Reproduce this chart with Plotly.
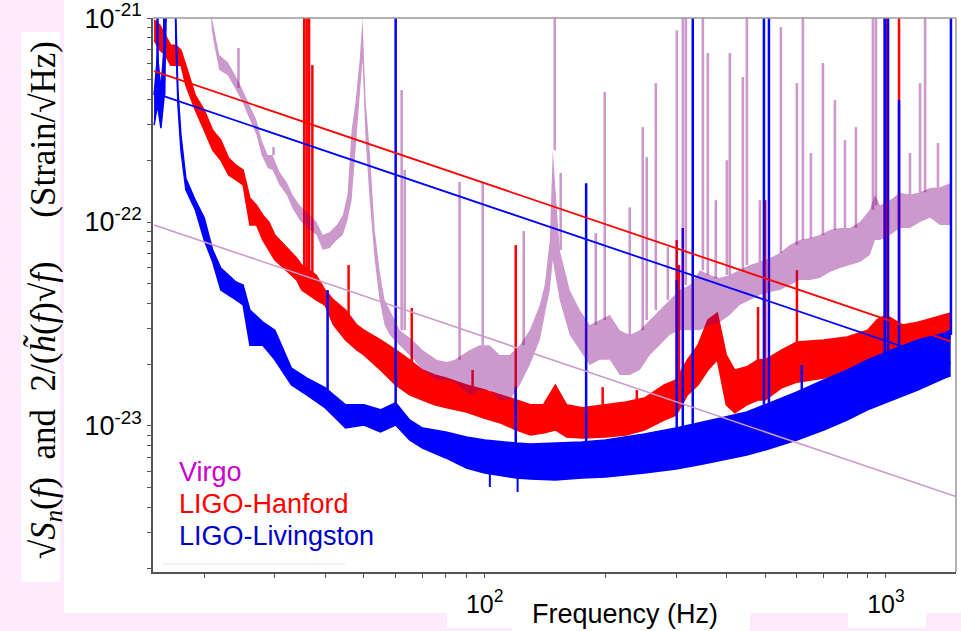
import plotly.graph_objects as go

# ---------------- data ----------------
# LIGO-Livingston noise band: frequency (Hz), upper / lower edge of the band (strain/sqrt(Hz))
LIV_F = [15.0, 15.3, 15.6, 15.9, 16.3, 16.8, 17.0, 17.2, 17.5, 18, 19, 20, 21, 22, 24, 25, 26, 28, 30, 33,
         36, 40, 45, 50, 55, 60, 65, 70, 80, 90, 100, 110, 120, 130, 150, 175, 200, 250, 300, 350,
         400, 450, 500, 600, 700, 800, 900, 1000, 1200, 1400, 1450]
LIV_HI = [4.19e-22, 6.59e-22, 4.44e-22, 7.37e-22, 3e-21, 3e-21, 9.77e-22, 4.44e-22, 2.67e-22, 1.64e-22,
          1.28e-22, 1.05e-22, 7.29e-23, 5.95e-23, 5.08e-23, 4.91e-23, 3.70e-23, 3.23e-23, 2.95e-23, 1.92e-23,
          1.72e-23, 1.54e-23, 1.27e-23, 1.27e-23, 1.20e-23, 1.30e-23, 1.07e-23, 9.77e-24, 9.35e-24, 8.83e-24,
          8.54e-24, 8.35e-24, 8.25e-24, 8.16e-24, 8.25e-24, 8.35e-24, 8.54e-24, 9.14e-24, 9.77e-24, 1.05e-23,
          1.11e-23, 1.17e-23, 1.27e-23, 1.47e-23, 1.68e-23, 1.88e-23, 2.11e-23, 2.30e-23, 2.64e-23, 2.86e-23,
          2.95e-23]
LIV_LO = [2.99e-22, 3.75e-22, 2.89e-22, 4.19e-22, 3e-21, 3e-21, 7.80e-22, 3.75e-22, 2.25e-22, 1.44e-22,
          1.15e-22, 8.16e-23, 6.37e-23, 4.64e-23, 4.15e-23, 3.92e-23, 2.49e-23, 2.49e-23, 2.11e-23, 1.59e-23,
          1.42e-23, 1.23e-23, 9.77e-24, 1.01e-23, 9.35e-24, 1.01e-23, 8.54e-24, 7.80e-24, 6.97e-24, 6.22e-24,
          5.88e-24, 5.69e-24, 5.56e-24, 5.50e-24, 5.44e-24, 5.56e-24, 5.62e-24, 5.88e-24, 6.15e-24, 6.51e-24,
          6.89e-24, 7.21e-24, 7.63e-24, 8.54e-24, 9.56e-24, 1.07e-23, 1.20e-23, 1.30e-23, 1.50e-23, 1.72e-23,
          1.76e-23]
# Livingston spectral lines: frequency, foot, tip
LIV_SPK_F = [15.3, 15.9, 40.6, 60.0, 119.5, 179, 301, 311.7, 330, 496.5, 511, 617, 993, 1012, 1078, 1452]
LIV_SPK_BASE = [3.75e-22, 4.19e-22, 1.34e-23, 1.20e-23, 8.07e-24, 8.07e-24, 9.56e-24, 9.56e-24, 9.77e-24,
                1.27e-23, 1.27e-23, 1.42e-23, 2.23e-23, 2.23e-23, 2.36e-23, 2.79e-23]
LIV_SPK_TOP = [3e-21, 3e-21, 4.64e-23, 3e-21, 1.55e-23, 1.55e-22, 5.20e-23, 9.35e-23, 3e-21, 3e-21, 3e-21,
               1.99e-23, 3e-21, 3e-21, 3.96e-22, 3e-21]
LIV_DIP_F = [103, 120.8]
LIV_DIP_FROM = [6.08e-24, 5.75e-24]
LIV_DIP_TO = [5.02e-24, 4.75e-24]

# LIGO-Hanford noise band
HAN_F = [15, 15.5, 16, 16.5, 17, 17.5, 18, 19, 20, 21, 22, 23, 24, 25, 26, 27, 28, 29, 30, 32, 34, 35, 38, 40,
         42, 45, 48, 50, 55, 60, 65, 70, 75, 80, 90, 100, 110, 120, 130, 140, 150, 160, 175, 200, 225, 250,
         280, 300, 320, 340, 360, 380, 400, 420, 450, 480, 500, 550, 600, 700, 800, 900, 950, 1000, 1100,
         1200, 1300, 1450]
HAN_HI = [9.77e-22, 9.24e-22, 8.25e-22, 7.37e-22, 7.37e-22, 6.97e-22, 5.88e-22, 4.19e-22, 3.54e-22, 2.82e-22,
          2.52e-22, 2.06e-22, 1.90e-22, 1.80e-22, 1.31e-22, 1.21e-22, 1.08e-22, 1.00e-22, 8.63e-23, 7.54e-23,
          6.66e-23, 6.15e-23, 5.50e-23, 4.64e-23, 4.15e-23, 3.70e-23, 3.13e-23, 2.95e-23, 2.64e-23, 2.36e-23,
          2.11e-23, 1.88e-23, 1.78e-23, 1.72e-23, 1.59e-23, 1.50e-23, 1.42e-23, 1.34e-23, 1.27e-23, 1.27e-23,
          1.59e-23, 1.27e-23, 1.23e-23, 1.27e-23, 1.31e-23, 1.37e-23, 1.59e-23, 1.68e-23, 2.11e-23, 2.49e-23,
          3.31e-23, 3.58e-23, 2.23e-23, 1.88e-23, 1.95e-23, 2.11e-23, 2.11e-23, 2.36e-23, 2.58e-23, 2.64e-23,
          2.73e-23, 2.95e-23, 3.31e-23, 3.50e-23, 3.13e-23, 3.23e-23, 3.38e-23, 3.58e-23]
HAN_LO = [7.80e-22, 6.97e-22, 6.59e-22, 5.88e-22, 5.88e-22, 5.88e-22, 4.69e-22, 3.54e-22, 2.82e-22, 2.25e-22,
          2.01e-22, 1.70e-22, 1.61e-22, 1.52e-22, 9.67e-23, 9.67e-23, 8.16e-23, 7.29e-23, 6.51e-23, 5.81e-23,
          5.20e-23, 4.64e-23, 4.15e-23, 3.92e-23, 3.13e-23, 2.64e-23, 2.36e-23, 2.23e-23, 1.88e-23, 1.59e-23,
          1.42e-23, 1.34e-23, 1.27e-23, 1.23e-23, 1.17e-23, 1.09e-23, 1.03e-23, 9.56e-24, 9.03e-24, 9.24e-24,
          9.56e-24, 8.83e-24, 8.73e-24, 8.83e-24, 9.03e-24, 9.56e-24, 1.07e-23, 1.13e-23, 1.42e-23, 1.59e-23,
          1.88e-23, 2.11e-23, 1.27e-23, 1.16e-23, 1.27e-23, 1.34e-23, 1.34e-23, 1.54e-23, 1.64e-23, 1.72e-23,
          1.84e-23, 1.99e-23, 2.15e-23, 2.23e-23, 2.18e-23, 2.30e-23, 2.47e-23, 2.70e-23]
HAN_SPK_F = [35.5, 36.0, 36.5, 37.2, 45.8, 65.8, 93.3, 119.5, 196.8, 239.4, 301, 305, 480, 500, 600, 994,
             1003, 1078]
HAN_SPK_BASE = [5.20e-23, 4.91e-23, 4.91e-23, 4.64e-23, 2.95e-23, 1.68e-23, 1.34e-23, 1.13e-23, 1.07e-23,
                1.07e-23, 1.34e-23, 1.34e-23, 1.68e-23, 1.68e-23, 2.06e-23, 2.79e-23, 2.79e-23, 2.64e-23]
HAN_SPK_TOP = [3e-21, 3e-21, 3e-21, 5.88e-22, 6.15e-23, 3.79e-23, 1.88e-23, 7.71e-23, 1.55e-23, 1.50e-23,
               8.16e-23, 6.15e-23, 3.83e-23, 1.28e-22, 5.81e-23, 3e-21, 3e-21, 3e-21]

# Virgo noise band
VIR_F = [20.0, 20.9, 21.2, 21.8, 22.9, 23.9, 24.8, 25.9, 27.0, 27.8, 28.8, 29.6, 30.8, 32.1, 33.2, 34.6, 36.6,
         38.1, 39.5, 41.1, 42.8, 44.3, 45.5, 46.6, 47.7, 48.8, 49.6, 50.5, 51.7, 53.2, 54.7, 56.3, 58.0, 61.4,
         66.1, 70.0, 75.9, 80.4, 84.2, 91.8, 97.2, 102.9, 109, 115.4, 122.3, 129.5, 137.2, 141.1, 145.3, 147.8,
         153.8, 162.9, 172.6, 182.7, 193.5, 205, 217, 230, 243.5, 258, 273, 289, 306, 325, 344, 364, 385, 408,
         432, 458, 485, 514, 544, 576, 610, 646, 684, 725, 768, 813, 861, 912, 939, 966, 1023, 1084, 1148,
         1216, 1288, 1364, 1444]
VIR_HI = [3e-21, 1.00e-21, 8.73e-22, 6.59e-22, 6.08e-22, 5.25e-22, 4.54e-22, 3.75e-22, 3.16e-22, 2.52e-22,
          2.13e-22, 2.13e-22, 1.76e-22, 1.57e-22, 1.36e-22, 1.21e-22, 1.08e-22, 1.00e-22, 8.63e-23, 8.93e-23,
          9.67e-23, 1.08e-22, 1.36e-22, 2.82e-22, 3.96e-22, 6.22e-22, 1.00e-21, 3.96e-22, 2.25e-22, 9.14e-23,
          5.81e-23, 4.15e-23, 3.70e-23, 2.95e-23, 2.64e-23, 2.36e-23, 2.11e-23, 2.06e-23, 2.11e-23, 2.36e-23,
          2.49e-23, 2.49e-23, 2.23e-23, 2.23e-23, 2.49e-23, 2.95e-23, 3.92e-23, 4.91e-23, 8.16e-23, 2.25e-22,
          7.29e-23, 4.64e-23, 3.70e-23, 3.13e-23, 3.31e-23, 3.50e-23, 2.95e-23, 2.79e-23, 2.95e-23, 3.31e-23,
          3.70e-23, 4.15e-23, 4.64e-23, 4.91e-23, 5.81e-23, 5.50e-23, 5.31e-23, 5.50e-23, 5.81e-23, 6.15e-23,
          6.37e-23, 6.66e-23, 7.05e-23, 7.71e-23, 8.16e-23, 8.34e-23, 8.63e-23, 9.14e-23, 9.35e-23, 9.35e-23,
          1.00e-22, 1.15e-22, 1.36e-22, 1.21e-22, 1.28e-22, 1.39e-22, 1.36e-22, 1.40e-22, 1.47e-22, 1.48e-22,
          1.55e-22]
VIR_LO = [3e-21, 8.73e-22, 7.37e-22, 5.56e-22, 5.25e-22, 4.54e-22, 3.96e-22, 3.23e-22, 2.67e-22, 2.13e-22,
          1.84e-22, 1.80e-22, 1.52e-22, 1.36e-22, 1.17e-22, 1.02e-22, 9.14e-23, 8.63e-23, 7.29e-23, 7.46e-23,
          8.16e-23, 8.63e-23, 1.02e-22, 1.28e-22, 2.25e-22, 3.96e-22, 6.22e-22, 2.52e-22, 1.28e-22, 6.51e-23,
          4.15e-23, 3.13e-23, 2.79e-23, 2.49e-23, 2.15e-23, 1.88e-23, 1.68e-23, 1.68e-23, 1.64e-23, 1.42e-23,
          1.50e-23, 1.50e-23, 1.34e-23, 1.34e-23, 1.59e-23, 1.99e-23, 2.64e-23, 3.50e-23, 4.64e-23, 6.51e-23,
          4.15e-23, 2.79e-23, 2.36e-23, 1.99e-23, 2.11e-23, 2.11e-23, 1.78e-23, 1.78e-23, 1.88e-23, 2.23e-23,
          2.49e-23, 2.79e-23, 2.95e-23, 2.95e-23, 2.95e-23, 3.13e-23, 3.23e-23, 3.50e-23, 3.92e-23, 4.15e-23,
          4.39e-23, 4.54e-23, 4.64e-23, 4.91e-23, 5.20e-23, 5.20e-23, 5.31e-23, 5.69e-23, 5.95e-23, 6.15e-23,
          6.37e-23, 6.89e-23, 8.16e-23, 8.16e-23, 8.63e-23, 9.35e-23, 9.35e-23, 1.00e-22, 1.05e-22, 9.67e-23,
          9.67e-23]
VIR_SPK_F = [24.35, 29.77, 62.1, 63.2, 86.6, 98.9, 125.1, 149.5, 154.7, 189.2, 199.2, 229.9, 247.7, 253.5,
             267.0, 286.1, 301.2, 311.8, 317.2, 349.8, 359.9, 376.7, 401.4, 408.3, 440.0, 450.2, 485.1, 547.2,
             599.8, 620.9, 650.1, 696.6, 746.2, 790.4, 841.7, 928.2, 944.4, 1148, 1216, 1252, 1348]
VIR_SPK_BASE = [4.54e-22, 2.13e-22, 2.95e-23, 2.95e-23, 2.11e-23, 2.49e-23, 2.49e-23, 2.25e-22, 7.29e-23,
                3.13e-23, 3.31e-23, 2.79e-23, 2.95e-23, 3.31e-23, 3.70e-23, 4.15e-23, 4.64e-23, 4.91e-23,
                4.91e-23, 5.81e-23, 5.50e-23, 5.31e-23, 5.50e-23, 5.50e-23, 5.81e-23, 6.15e-23, 6.37e-23,
                7.05e-23, 7.71e-23, 8.16e-23, 8.34e-23, 8.63e-23, 9.14e-23, 9.35e-23, 9.35e-23, 1.15e-22,
                1.21e-22, 1.36e-22, 1.40e-22, 1.40e-22, 1.48e-22]
VIR_SPK_TOP = [7.13e-22, 2.33e-22, 4.44e-22, 1.80e-22, 1.57e-22, 1.55e-22, 9.03e-23, 3e-21, 1.74e-22,
               8.83e-23, 4.34e-22, 1.18e-22, 2.92e-22, 2.08e-22, 4.80e-22, 7.54e-23, 8.73e-22, 3e-21, 3e-21,
               3e-21, 6.74e-22, 1.28e-22, 2.01e-22, 6.74e-22, 5.14e-22, 3e-21, 1.28e-22, 9.03e-22, 4.80e-22,
               3e-21, 2.18e-22, 6.02e-22, 3.96e-22, 2.52e-22, 2.92e-22, 3e-21, 3e-21, 2.18e-22, 4.80e-22,
               3e-21, 2.44e-22]

# Straight reference lines 2/(h(f) sqrt f): end points
LINE_F = [15.0, 1450.0]
HAN_LINE = [5.50e-22, 2.60e-23]
LIV_LINE = [4.30e-22, 2.04e-23]
VIR_LINE_F = [15.0, 1495.0]
VIR_LINE = [9.68e-23, 4.51e-24]

# Axis ticks
X_TICKS = [20, 30, 40, 50, 60, 70, 80, 90, 100, 200, 300, 400, 500, 600, 700, 800, 900, 1000]
X_LABELS = {100: '10<sup>2</sup>', 1000: '10<sup>3</sup>'}
Y_TICKS = [m * 10.0 ** e for e in (-24, -23, -22) for m in range(1, 10) if m * 10.0 ** e > 1.9e-24] + [1e-21]
Y_LABELS = {1e-23: '10<sup>-23</sup>', 1e-22: '10<sup>-22</sup>', 1e-21: '10<sup>-21</sup>'}

LEGEND_NAMES = ['Virgo', 'LIGO-Hanford', 'LIGO-Livingston']
LEGEND_COLORS = ['#cc00cc', '#ff0000', '#0000cc']

RED = '#ff0000'
BLUE = '#0000ff'
VIR_RGBA = 'rgba(128,0,128,0.4)'
PINK = '#fdebfd'


def band(f, lo, hi, color, fillcolor, lw=1.0):
    return [
        go.Scatter(x=f, y=lo, mode='lines', line=dict(color=color, width=lw),
                   hoverinfo='skip', showlegend=False),
        go.Scatter(x=f, y=hi, mode='lines', line=dict(color=color, width=lw),
                   fill='tonexty', fillcolor=fillcolor, hoverinfo='skip', showlegend=False),
    ]


def spikes(f, base, top, color, width, opacity=1.0):
    xs, ys = [], []
    for fi, b, t in zip(f, base, top):
        xs += [fi, fi, None]
        ys += [b, t, None]
    return go.Scatter(x=xs, y=ys, mode='lines', line=dict(color=color, width=width), opacity=opacity,
                      hoverinfo='skip', showlegend=False, connectgaps=False)


fig = go.Figure()
for t in band(HAN_F, HAN_LO, HAN_HI, RED, RED, lw=1.5):
    fig.add_trace(t)
fig.add_trace(spikes(HAN_SPK_F, HAN_SPK_BASE, HAN_SPK_TOP, RED, 2.5))
for t in band(LIV_F, LIV_LO, LIV_HI, BLUE, BLUE, lw=1.5):
    fig.add_trace(t)
fig.add_trace(spikes(LIV_SPK_F, LIV_SPK_BASE, LIV_SPK_TOP, BLUE, 2.5))
fig.add_trace(spikes(LIV_DIP_F, LIV_DIP_FROM, LIV_DIP_TO, BLUE, 2))
for t in band(VIR_F, VIR_LO, VIR_HI, 'rgba(0,0,0,0)', VIR_RGBA, lw=0):
    fig.add_trace(t)
fig.add_trace(spikes(VIR_SPK_F, VIR_SPK_BASE, VIR_SPK_TOP, VIR_RGBA, 2.6))

fig.add_trace(go.Scatter(x=LINE_F, y=HAN_LINE, mode='lines', line=dict(color=RED, width=1.8),
                         showlegend=False, hoverinfo='skip'))
fig.add_trace(go.Scatter(x=LINE_F, y=LIV_LINE, mode='lines', line=dict(color=BLUE, width=1.8),
                         showlegend=False, hoverinfo='skip'))
fig.add_trace(go.Scatter(x=VIR_LINE_F, y=VIR_LINE, mode='lines', line=dict(color='#cc99cc', width=1.6),
                         showlegend=False, hoverinfo='skip'))

axis_common = dict(type='log', showgrid=False, zeroline=False, showline=True, linecolor='#555',
                   linewidth=1.5, ticks='outside', ticklen=4, tickcolor='#555', tickwidth=1,
                   tickmode='array', automargin=False, ticklabeloverflow='allow')

fig.update_xaxes(**axis_common, range=[1.1734, 3.1746], tickvals=X_TICKS,
                 ticktext=[X_LABELS.get(v, '') for v in X_TICKS], ticklabelstandoff=5,
                 tickfont=dict(family='Liberation Sans', size=25, color='black'))
fig.update_yaxes(**axis_common, range=[-23.716, -20.9995], tickvals=Y_TICKS,
                 ticktext=[Y_LABELS.get(v, '') for v in Y_TICKS],
                 tickfont=dict(family='Liberation Sans', size=27, color='black'))

shapes = [
    # white canvas on pink page
    dict(type='rect', xref='paper', yref='paper', x0=-0.1108, x1=1.0062, y0=-0.074, y1=1.0325,
         fillcolor='white', line=dict(width=0), layer='below'),
    dict(type='rect', xref='paper', yref='paper', x0=-0.1644, x1=-0.1158, y0=-0.018, y1=0.9747,
         fillcolor='white', line=dict(width=0), layer='below'),
    dict(type='rect', xref='paper', yref='paper', x0=0.3661, x1=0.4471, y0=-0.1011, y1=-0.074,
         fillcolor='white', line=dict(width=0), layer='below'),
    dict(type='rect', xref='paper', yref='paper', x0=0.4471, x1=0.7435, y0=-0.1065, y1=-0.074,
         fillcolor='white', line=dict(width=0), layer='below'),
    dict(type='rect', xref='paper', yref='paper', x0=0.8655, x1=0.9626, y0=-0.1011, y1=-0.074,
         fillcolor='white', line=dict(width=0), layer='below'),
    # frame top/right
    dict(type='line', xref='paper', yref='paper', x0=0, x1=1, y0=1, y1=1, line=dict(color='#999', width=1.5)),
    dict(type='line', xref='paper', yref='paper', x0=1, x1=1, y0=0, y1=1, line=dict(color='#999', width=1.5)),
    # faint legend frame line
    dict(type='line', xref='paper', yref='paper', x0=0.0125, x1=0.239, y0=0.0144, y1=0.0144,
         line=dict(color='#e2e2e2', width=1)),
]

annotations = []
for name, col, yy in zip(LEGEND_NAMES, LEGEND_COLORS, [0.1805, 0.1227, 0.065]):
    annotations.append(dict(xref='paper', yref='paper', x=0.0299, y=yy, xanchor='left', yanchor='middle',
                            text=name, showarrow=False,
                            font=dict(family='Liberation Sans', size=27, color=col)))
annotations.append(dict(xref='paper', yref='paper', x=0.5878, y=-0.0758, xanchor='center', yanchor='middle',
                        text='Frequency (Hz)', showarrow=False,
                        font=dict(family='Liberation Sans', size=27, color='black')))
nb = '\u00a0'
ylab = ('√<i>S<sub>n</sub></i>(<i>f</i>)' + nb * 2 + 'and' + nb * 2 + '2/(<i>h̃</i>(<i>f</i>)√<i>f</i>)'
        + nb * 5 + '(Strain/√Hz)')
annotations.append(dict(xref='paper', yref='paper', x=-0.1345, y=0.491, xanchor='center', yanchor='middle',
                        text=ylab, textangle=-90, showarrow=False,
                        font=dict(family='Liberation Serif', size=35, color='black')))

fig.update_layout(width=961, height=631, margin=dict(l=153, r=5, t=18, b=59, autoexpand=False),
                  paper_bgcolor=PINK, plot_bgcolor='white', showlegend=False,
                  shapes=shapes, annotations=annotations)

fig.write_html('out.html', config={'displayModeBar': False},
               post_script="document.body.style.margin='0';document.body.style.overflow='hidden';")
